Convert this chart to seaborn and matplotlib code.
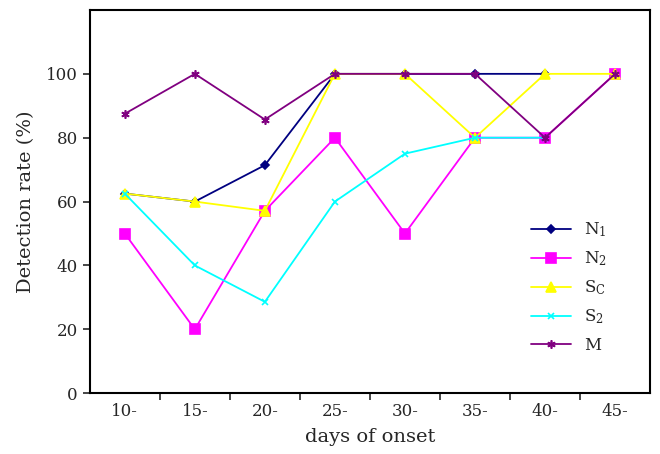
import seaborn as sns
import matplotlib.pyplot as plt
import pandas as pd
import numpy as np

days = ["10-", "15-", "20-", "25-", "30-", "35-", "40-", "45-"]
n1 = [62.5, 60, 71.4, 100, 100, 100, 100]
n2 = [50, 20, 57.1, 80, 50, 80, 80, 100]
sc = [62.5, 60, 57.1, 100, 100, 80, 100, 100]
s2 = [62.5, 40, 28.6, 60, 75, 80, 80]
m = [87.5, 100, 85.7, 100, 100, 100, 80, 100]

series = {
    r"N$\mathregular{_1}$": n1,
    r"N$\mathregular{_2}$": n2,
    r"S$\mathregular{_C}$": sc,
    r"S$\mathregular{_2}$": s2,
    "M": m,
}
colors = ["#000080", "#ff00ff", "#ffff00", "#00ffff", "#800080"]
marks = ["D", "s", "^", "x", (6, 2, 0)]
sizes = [4.5, 6.5, 7, 5, 6]

rows = []
for name, vals in series.items():
    for i, v in enumerate(vals):
        rows.append({"series": name, "pos": i, "rate": v})
data = pd.DataFrame(rows)


def plot_rates():
    sns.set_style("ticks")
    plt.rcParams['font.family'] = ['DejaVu Serif']
    plt.rcParams['mathtext.fontset'] = 'dejavuserif'
    fig = plt.figure(figsize=(6.6, 4.54), dpi=100)
    ax = fig.add_axes([0.136, 0.134, 0.849, 0.844])

    names = list(series.keys())
    for name, col, mk, ms in zip(names, colors, marks, sizes):
        sub = data[data["series"] == name]
        sns.lineplot(data=sub, x="pos", y="rate", color=col, marker=mk,
                     markersize=ms, markeredgecolor=col, markeredgewidth=1.2,
                     linewidth=1.3, label=name, ax=ax, sort=False)

    ax.set_xlim(-0.5, 7.5)
    ax.set_ylim(0, 120)
    ax.set_yticks(np.arange(0, 101, 20))
    ax.set_xticks(range(len(days)))
    ax.set_xticklabels(days)
    ax.set_xticks(np.arange(0.5, 7, 1), minor=True)
    ax.tick_params(axis="x", which="major", length=0, pad=7, labelsize=12)
    ax.tick_params(axis="x", which="minor", length=5, width=1.2, direction="out")
    ax.tick_params(axis="y", length=5, width=1.2, direction="out", labelsize=12)
    for sp in ax.spines.values():
        sp.set_linewidth(1.5)
        sp.set_color("black")

    ax.set_xlabel("days of onset", fontsize=14, labelpad=6)
    ax.set_ylabel("Detection rate (%)", fontsize=14, labelpad=8)

    ax.legend(loc="upper left", bbox_to_anchor=(0.76, 0.49), frameon=False,
              fontsize=12, handlelength=2.4, labelspacing=0.62,
              handletextpad=0.8)

    fig.savefig("out.png", dpi=100)


if __name__ == '__main__':
    plot_rates()
